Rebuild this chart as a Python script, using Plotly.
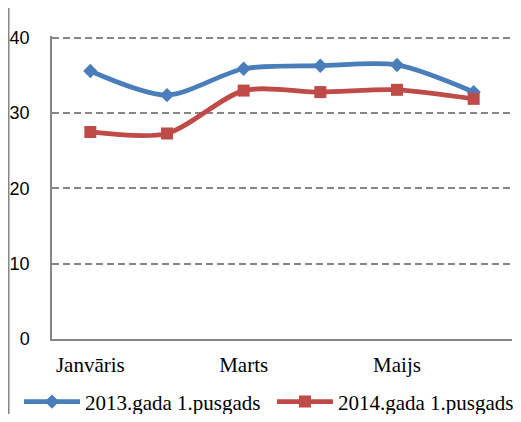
import plotly.graph_objects as go

months = ["Janvāris", "Februāris", "Marts", "Aprīlis", "Maijs", "Jūnijs"]
series_2013 = [35.6, 32.4, 35.9, 36.3, 36.4, 32.8]
series_2014 = [27.5, 27.3, 33.0, 32.8, 33.1, 31.9]
name_2013 = "2013.gada 1.pusgads"
name_2014 = "2014.gada 1.pusgads"
shown_ticks = ["Janvāris", "Marts", "Maijs"]
y_ticks = [0, 10, 20, 30, 40]

x_idx = list(range(len(months)))

fig = go.Figure()
fig.add_trace(go.Scatter(
    x=x_idx, y=series_2013, name=name_2013, mode="lines+markers", legend="legend",
    line=dict(color="#4A7EBB", width=4.8, shape="spline", smoothing=0.8),
    marker=dict(symbol="diamond", size=11, color="#4A7EBB"),
))
fig.add_trace(go.Scatter(
    x=x_idx, y=series_2014, name=name_2014, mode="lines+markers", legend="legend2",
    line=dict(color="#BE4B48", width=4.8, shape="spline", smoothing=0.8),
    marker=dict(symbol="square", size=12, color="#BE4B48"),
))

legend_common = dict(
    orientation="h", xanchor="left", y=-0.14, yanchor="top",
    font=dict(family="Liberation Serif, Times New Roman, serif", size=21, color="black"),
    itemwidth=56, bgcolor="rgba(0,0,0,0)",
)

fig.update_layout(
    width=505, height=406,
    margin=dict(l=44, r=1, t=28, b=75, autoexpand=False),
    paper_bgcolor="white", plot_bgcolor="white",
    showlegend=True,
    legend=dict(x=-0.0718, **legend_common),
    legend2=dict(x=0.4782, **legend_common),
    xaxis=dict(
        range=[-0.5, 5.5],
        tickmode="array",
        tickvals=[months.index(m) for m in shown_ticks],
        ticktext=shown_ticks,
        showgrid=False, zeroline=False,
        showline=True, linecolor="#868686", linewidth=1.5,
        ticks="", tickfont=dict(family="Liberation Serif, Times New Roman, serif", size=21, color="black"),
        ticklabelstandoff=6,
    ),
    yaxis=dict(
        range=[0, 40.25],
        tickvals=y_ticks,
        showgrid=True, gridcolor="#868686", gridwidth=1.5, griddash="7px,4px",
        zeroline=False,
        showline=True, linecolor="#868686", linewidth=1.5,
        ticks="", tickfont=dict(family="Liberation Sans", size=18, color="black"),
        ticklabelstandoff=17,
    ),
    shapes=[dict(
        type="rect", xref="paper", yref="paper",
        x0=-0.094, x1=1.2, y0=-0.5, y1=1.0972,
        line=dict(color="#868686", width=1.5), fillcolor="rgba(0,0,0,0)",
        layer="below",
    )],
)

fig.write_html("out.html")
